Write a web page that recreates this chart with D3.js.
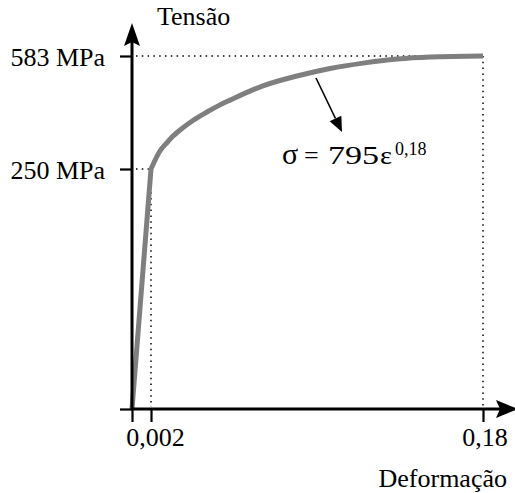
<!DOCTYPE html>
<html>
<head>
<meta charset="utf-8">
<script src="https://cdn.jsdelivr.net/npm/d3@7"></script>
<style>
  html, body { margin: 0; padding: 0; background: #fff; }
  svg { display: block; }
  text { font-family: "Liberation Serif", "Times New Roman", serif; fill: #000; }
</style>
</head>
<body>
<svg id="chart" width="515" height="493"></svg>
<script>
// ---- data ----
const strain = [0, 0.002, 0.0041, 0.0068, 0.0106, 0.0138, 0.0192, 0.0245, 0.032, 0.039, 0.0444, 0.062, 0.0803, 0.098, 0.1157, 0.1339, 0.1516, 0.18];
const stress = [0, 250, 275, 303, 328, 347, 372, 393, 418, 439, 453, 495, 524, 546, 562, 574, 580, 583];
const yieldIndex = 1;
const xTickValues = [0, 0.002, 0.18];
const xTickLabels = ["", "0,002", "0,18"];
const yTickValues = [0, 250, 583];
const yTickLabels = ["", "250 MPa", "583 MPa"];
const xTitle = "Deformação";
const yTitle = "Tensão";

const svg = d3.select("#chart");
const FS = 26;

// schematic (piecewise) scales
const x = d3.scaleLinear().domain([0, 0.002, 0.18]).range([132, 151, 483]);
const y = d3.scaleLinear().domain([0, 250, 583]).range([409, 169, 56]);

const pts = strain.map((s, i) => [s, stress[i]]);

// dotted guide lines
const guides = svg.append("g")
  .attr("stroke", "#000").attr("stroke-width", 1.5)
  .attr("stroke-dasharray", "1.5,4.3").attr("fill", "none");
[[0.002, 250], [0.18, 583]].forEach(([e, s]) => {
  guides.append("line").attr("x1", x(0) + 4).attr("x2", x(e)).attr("y1", y(s)).attr("y2", y(s));
  guides.append("line").attr("x1", x(e)).attr("x2", x(e)).attr("y1", y(s)).attr("y2", y(0) - 2);
});

// curve
const elastic = d3.line().x(d => x(d[0])).y(d => y(d[1]))(pts.slice(0, yieldIndex + 1));
const plastic = d3.line().x(d => x(d[0])).y(d => y(d[1])).curve(d3.curveMonotoneX)(pts.slice(yieldIndex));
svg.append("path")
  .attr("d", elastic + plastic.replace(/^M/, "L"))
  .attr("fill", "none").attr("stroke", "#7f7f7f")
  .attr("stroke-width", 5).attr("stroke-linejoin", "round");

// axes
const xAxis = d3.axisBottom(x).tickValues(xTickValues).tickSize(13).tickPadding(6)
  .tickFormat((d, i) => xTickLabels[i]);
const gx = svg.append("g").attr("transform", `translate(0,${y(0)})`).call(xAxis);
gx.select(".domain").remove();
gx.selectAll(".tick line").attr("stroke", "#000").attr("stroke-width", 2.2);
gx.selectAll(".tick text").attr("font-size", FS).attr("font-family", "Liberation Serif, serif")
  .attr("dx", (d, i) => i === 1 ? 4 : 1.5);

const yAxis = d3.axisLeft(y).tickValues(yTickValues).tickSize(12).tickPadding(15)
  .tickFormat((d, i) => yTickLabels[i]);
const gy = svg.append("g").attr("transform", `translate(${x(0)},0)`).call(yAxis);
gy.select(".domain").remove();
gy.selectAll(".tick line").attr("stroke", "#000").attr("stroke-width", 2.2);
gy.selectAll(".tick text").attr("font-size", FS).attr("font-family", "Liberation Serif, serif")
  .attr("dy", "0.38em");

// axis lines with arrowheads
const x0 = x(0), y0 = y(0);
svg.append("line").attr("x1", x0).attr("x2", x0).attr("y1", y0 + 1).attr("y2", 40)
  .attr("stroke", "#000").attr("stroke-width", 3);
svg.append("line").attr("x1", x0 - 1).attr("x2", 500).attr("y1", y0).attr("y2", y0)
  .attr("stroke", "#000").attr("stroke-width", 3);
svg.append("path")
  .attr("d", `M${x0},23 L${x0 + 8},46 L${x0},42 L${x0 - 8},46 Z`).attr("fill", "#000");
svg.append("path")
  .attr("d", `M518,${y0} L496,${y0 - 9} L500,${y0} L496,${y0 + 9} Z`).attr("fill", "#000");

// axis titles
svg.append("text").attr("x", 157).attr("y", 25).attr("font-size", FS).text(yTitle);
svg.append("text").attr("x", 507).attr("y", 487).attr("font-size", FS)
  .attr("text-anchor", "end").text(xTitle);

// annotation arrow + formula
const ax1 = 316, ay1 = 78, ax2 = 342, ay2 = 132;
const ang = Math.atan2(ay2 - ay1, ax2 - ax1);
const hl = 15, hw = 6.5;
const bx = ax2 - hl * Math.cos(ang), by = ay2 - hl * Math.sin(ang);
svg.append("line").attr("x1", ax1).attr("y1", ay1).attr("x2", bx).attr("y2", by)
  .attr("stroke", "#000").attr("stroke-width", 1.6);
svg.append("path")
  .attr("d", `M${ax2},${ay2} L${bx + hw * Math.sin(ang)},${by - hw * Math.cos(ang)} L${bx - hw * Math.sin(ang)},${by + hw * Math.cos(ang)} Z`)
  .attr("fill", "#000");

const f = svg.append("text").attr("y", 164).attr("font-size", FS);
f.append("tspan").attr("x", 282).attr("font-size", 30).text("σ");
f.append("tspan").attr("x", 304).text("=");
f.append("tspan").attr("x", 328).attr("textLength", 51).attr("lengthAdjust", "spacingAndGlyphs").text("795");
f.append("tspan").attr("x", 380).attr("textLength", 12).attr("lengthAdjust", "spacingAndGlyphs").text("ε");
svg.append("text").attr("x", 395).attr("y", 155).attr("font-size", 18)
  .text("0,18");
</script>
</body>
</html>
